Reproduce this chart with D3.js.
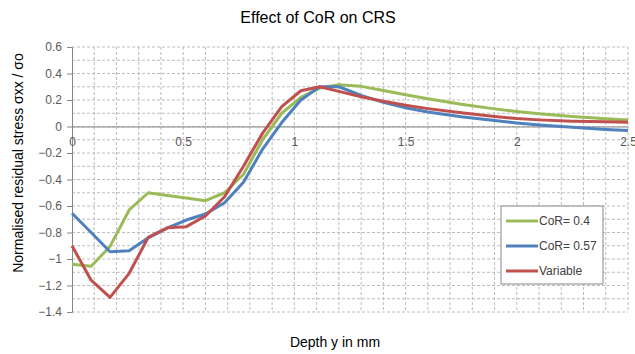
<!DOCTYPE html>
<html>
<head>
<meta charset="utf-8">
<script src="https://cdn.jsdelivr.net/npm/d3@7"></script>
<style>
  body { margin: 0; background: #fff; }
  text { font-family: Arial, "Liberation Sans", sans-serif; }
</style>
</head>
<body>
<div id="chart-area"></div>
<script>
// depth values (mm)
var depth = [0, 0.086, 0.171, 0.257, 0.343, 0.429, 0.514, 0.6, 0.686, 0.771, 0.857, 0.943,
    1.029, 1.114, 1.2, 1.3, 1.4, 1.5, 1.6, 1.75, 1.9, 2.0, 2.1, 2.25, 2.4, 2.5];

var cor04 = [-1.04, -1.055, -0.905, -0.63, -0.50, -0.52, -0.54, -0.56, -0.50, -0.36, -0.10, 0.10,
    0.22, 0.29, 0.315, 0.303, 0.272, 0.24, 0.21, 0.168, 0.133, 0.113, 0.096, 0.075, 0.058, 0.049];
var cor057 = [-0.655, -0.80, -0.945, -0.937, -0.84, -0.765, -0.706, -0.66, -0.575, -0.42, -0.17, 0.03,
    0.20, 0.30, 0.30, 0.235, 0.182, 0.142, 0.11, 0.074, 0.045, 0.027, 0.012, -0.006, -0.022, -0.031];
var variable = [-0.90, -1.16, -1.29, -1.108, -0.836, -0.765, -0.756, -0.675, -0.53, -0.30, -0.05, 0.15,
    0.27, 0.30, 0.265, 0.225, 0.19, 0.16, 0.135, 0.103, 0.075, 0.06, 0.05, 0.04, 0.035, 0.033];

var seriesNames = ['CoR= 0.4', 'CoR= 0.57', 'Variable'];
var seriesColors = ['#9bbb59', '#4f81bd', '#c0504d'];
var xTicks = [0, 0.5, 1, 1.5, 2, 2.5];
var yTicks = [0.6, 0.4, 0.2, 0, -0.2, -0.4, -0.6, -0.8, -1, -1.2, -1.4];

var series = [cor04, cor057, variable].map(function(vals, i) {
    return { name: seriesNames[i], color: seriesColors[i],
             values: vals.map(function(v, j) { return { x: depth[j], y: v }; }) };
});

var margin = { top: 47, right: 7, bottom: 42, left: 72 },
    width = 635 - margin.left - margin.right,
    height = 354 - margin.top - margin.bottom;

var svg = d3.select('#chart-area')
    .append('svg')
        .attr('width', 635)
        .attr('height', 354);

var g = svg.append('g')
    .attr('transform', 'translate(' + margin.left + ',' + margin.top + ')');

var x = d3.scaleLinear().domain([0, 2.5]).range([0, width]);
var y = d3.scaleLinear().domain([-1.4, 0.6]).range([height, 0]);

// gridlines every 0.1
var gx = d3.range(1, 26).map(function(i) { return i / 10; });
var gy = d3.range(-14, 7).map(function(i) { return i / 10; });

g.selectAll('.vgrid').data(gx).enter().append('line')
    .attr('x1', d => x(d)).attr('x2', d => x(d))
    .attr('y1', 0).attr('y2', height)
    .attr('stroke', '#bcbcbc').attr('stroke-dasharray', '3,2').attr('stroke-width', 1);

g.selectAll('.hgrid').data(gy).enter().append('line')
    .attr('x1', 0).attr('x2', width)
    .attr('y1', d => y(d)).attr('y2', d => y(d))
    .attr('stroke', '#bcbcbc').attr('stroke-dasharray', '3,2').attr('stroke-width', 1);

// y axis
var yAxisCall = d3.axisLeft(y).tickValues(yTicks).tickSize(5).tickPadding(5)
    .tickFormat(d => d3.format('')(Math.round(d * 10) / 10));
var yAxis = g.append('g').call(yAxisCall);
yAxis.select('.domain').attr('stroke', '#868686');
yAxis.selectAll('line').attr('stroke', '#868686');
yAxis.selectAll('text').attr('font-size', '12px').attr('fill', '#595959');

// x axis at y = 0
var xAxisCall = d3.axisBottom(x).tickValues(xTicks).tickSize(0).tickPadding(11)
    .tickFormat(d3.format(''));
var xAxis = g.append('g')
    .attr('transform', 'translate(0,' + y(0) + ')')
    .call(xAxisCall);
xAxis.select('.domain').attr('stroke', '#868686');
xAxis.selectAll('text').attr('font-size', '12px').attr('fill', '#595959');

// lines
var line = d3.line().x(d => x(d.x)).y(d => y(d.y));
g.selectAll('.series').data(series).enter().append('path')
    .attr('d', d => line(d.values))
    .attr('fill', 'none')
    .attr('stroke', d => d.color)
    .attr('stroke-width', 3)
    .attr('stroke-linejoin', 'round');

// title
svg.append('text')
    .attr('x', 318).attr('y', 23)
    .attr('text-anchor', 'middle')
    .attr('font-size', '16px')
    .attr('fill', '#000')
    .text('Effect of CoR on CRS');

// X-Axis Label
svg.append('text')
    .attr('x', 335).attr('y', 347)
    .attr('text-anchor', 'middle')
    .attr('font-size', '14px')
    .text('Depth y in mm');

// Y-Axis Label
svg.append('text')
    .attr('transform', 'translate(23,' + 163 + ') rotate(-90)')
    .attr('text-anchor', 'middle')
    .attr('font-size', '14px')
    .text('Normalised residual stress σxx / σo');

// legend
var legend = svg.append('g').attr('transform', 'translate(501,206)');
legend.append('rect')
    .attr('width', 102).attr('height', 78)
    .attr('fill', '#fff').attr('stroke', '#868686');
var items = legend.selectAll('.item').data(series).enter().append('g')
    .attr('transform', (d, i) => 'translate(0,' + (15 + i * 25) + ')');
items.append('line')
    .attr('x1', 5).attr('x2', 37)
    .attr('stroke', d => d.color).attr('stroke-width', 3);
items.append('text')
    .attr('x', 38).attr('y', 4)
    .attr('font-size', '12px')
    .attr('fill', '#404040')
    .text(d => d.name);
</script>
</body>
</html>
